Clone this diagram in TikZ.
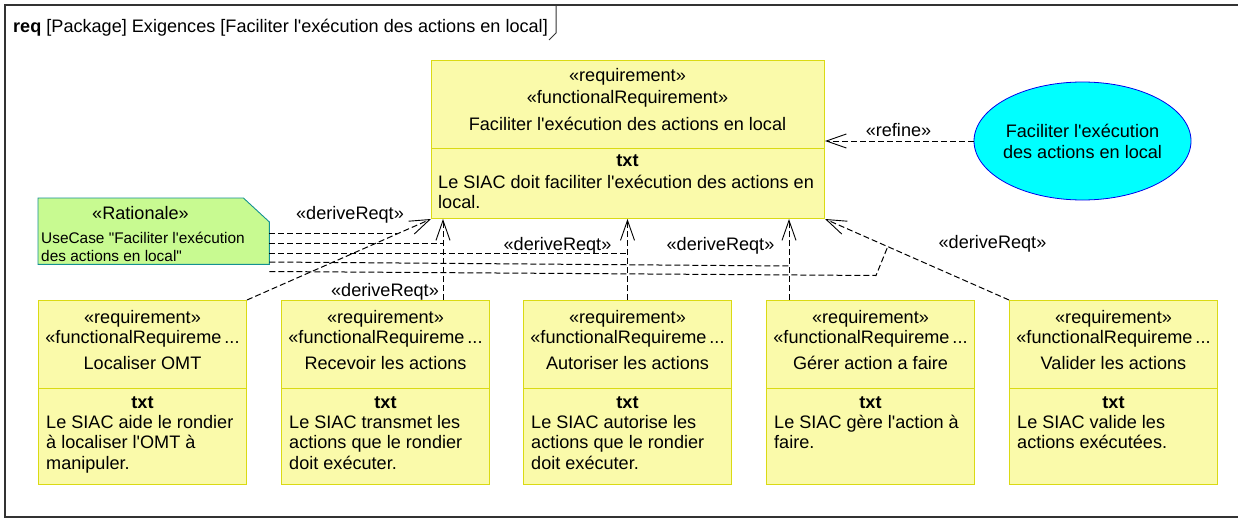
\documentclass[tikz,border=0pt]{standalone}
\usepackage{fontspec}
\setmainfont{Liberation Sans}
\usetikzlibrary{arrows.meta,calc,shapes.geometric}
\definecolor{reqfill}{RGB}{250,250,170}
\definecolor{reqdraw}{RGB}{218,218,20}
\definecolor{notefill}{RGB}{200,250,145}
\definecolor{notedraw}{RGB}{20,145,145}
\definecolor{ucfill}{RGB}{0,255,255}
\definecolor{ucdraw}{RGB}{0,0,235}
\newcommand\bigf{\fontsize{18.1}{21}\selectfont}
\newcommand\smallf{\fontsize{15.4}{18}\selectfont}
\newcommand\ap{\textquotesingle}
\newcommand\dq{\textquotedbl}
\begin{document}
\begin{tikzpicture}[x=1pt,y=-1pt,
  reqpart/.style={draw=reqdraw,fill=reqfill,line width=1pt,inner sep=0,anchor=north west},
  txtc/.style={font=\bigf,inner sep=0,anchor=base},
  txtl/.style={font=\bigf,inner sep=0,anchor=base west},
  frame/.style={draw=black!80,line width=1.3pt},
  dep/.style={draw,line width=1pt,dash pattern=on 6pt off 3pt,
    -{Straight Barb[length=20pt,width=14pt,line width=0.9pt]}},
  lnk/.style={draw,line width=1pt,dash pattern=on 6pt off 3pt}]
\useasboundingbox (0,0) rectangle (1238,519);

% frame
\draw[frame] (1260,5) -- (5,5) -- (5,517) -- (1260,517);
\draw[frame,line width=1pt] (556,5) -- (556,33) -- (549,40);
\node[txtl] (title) at (13,33) {\textbf{req} [Package] Exigences [Faciliter l\ap exécution des actions en local]};

% main requirement
\node[reqpart,minimum width=393pt,minimum height=88pt] (main-h) at (431,60) {};
\node[reqpart,minimum width=393pt,minimum height=70pt] (main-b) at (431,148) {};
\node[txtc] (m1) at (627.5,81.5) {«requirement»};
\node[txtc] (m2) at (627.5,103) {«functionalRequirement»};
\node[txtc] (m3) at (627.5,130) {Faciliter l\ap exécution des actions en local};
\node[txtc] (m4) at (627.5,166.5) {\textbf{txt}};
\node[txtl] (m5) at (438,188) {Le SIAC doit faciliter l\ap exécution des actions en};
\node[txtl] (m6) at (438,208.5) {local.};

% use case
\node[ellipse,draw=ucdraw,fill=ucfill,line width=0.8pt,minimum width=217pt,minimum height=118pt,inner sep=0] (uc) at (1082.5,141) {};
\node[txtc] (u1) at (1082.5,137.5) {Faciliter l\ap exécution};
\node[txtc] (u2) at (1082.5,158.5) {des actions en local};

% rationale note
\node[inner sep=0,minimum width=231pt,minimum height=66pt,anchor=north west] (note) at (38,198) {};
\filldraw[fill=notefill,draw=notedraw,line width=0.9pt]
  (note.north west) -- ([xshift=-26pt]note.north east) -- ([yshift=-24pt]note.north east)
  -- (note.south east) -- (note.south west) -- cycle;
\node[txtc] (n1) at (140.5,219) {«Rationale»};
\node[font=\smallf,inner sep=0,anchor=base west] (n2) at (41,243) {UseCase \dq Faciliter l\ap exécution};
\node[font=\smallf,inner sep=0,anchor=base west] (n3) at (41,261) {des actions en local\dq};

% sub requirements
\foreach \n/\x/\nm/\la/\lb/\lc in {
  loc/38/Localiser OMT/Le SIAC aide le rondier/à localiser l\ap OMT à/manipuler.,
  rec/281/Recevoir les actions/Le SIAC transmet les/actions que le rondier/doit exécuter.,
  aut/523/Autoriser les actions/Le SIAC autorise les/actions que le rondier/doit exécuter.,
  ger/766/Gérer action a faire/Le SIAC gère l\ap action à/faire./{},
  val/1009/Valider les actions/Le SIAC valide les/actions exécutées./{}}{
  \node[reqpart,minimum width=208pt,minimum height=88pt] (\n-h) at (\x,300) {};
  \node[reqpart,minimum width=208pt,minimum height=96pt] (\n-b) at (\x,388) {};
  \node[txtc] (\n-1) at ($(\n-h.north)+(0,23.5)$) {«requirement»};
  \node[txtc] (\n-2) at ($(\n-h.north)+(0,43.5)$) {«functionalRequireme\,...};
  \node[txtc] (\n-3) at ($(\n-h.north)+(0,69)$) {\nm};
  \node[txtc] (\n-4) at ($(\n-b.north)+(0,20.5)$) {\textbf{txt}};
  \node[txtl] (\n-5) at ($(\n-b.north west)+(8,40)$) {\la};
  \node[txtl] (\n-6) at ($(\n-b.north west)+(8,60.5)$) {\lb};
  \node[txtl] (\n-7) at ($(\n-b.north west)+(8,81)$) {\lc};
}

% derive relations
\coordinate (xr) at (443,0);
\coordinate (xg) at (789,0);
\draw[dep] (loc-h.north east) -- (main-b.south west);
\draw[dep] (rec-h.north -| xr) -- (main-b.south -| xr);
\draw[dep] (aut-h.north) -- (main-b.south -| aut-h.north);
\draw[dep] (ger-h.north -| xg) -- (main-b.south -| xg);
\draw[dep] (val-h.north west) -- (main-b.south east);
\draw[dep] (uc.west) -- (uc.west -| main-h.east);

\node[txtc] (l1) at (350,219) {«deriveReqt»};
\node[txtc] (l2) at (385,296.5) {«deriveReqt»};
\node[txtc] (l3) at (557.5,250) {«deriveReqt»};
\node[txtc] (l4) at (720.5,250) {«deriveReqt»};
\node[txtc] (l5) at (992.5,248.5) {«deriveReqt»};
\node[txtc] (l6) at (898.5,136.5) {«refine»};

% rationale anchors
\coordinate (ja) at ($(loc-h.north east)!0.817!(main-b.south west)$);
\coordinate (jb) at (443,243);
\coordinate (jc) at (627.5,253);
\coordinate (yd) at (0,262);
\coordinate (jd) at (789,266);
\coordinate (ye) at (0,271.5);
\coordinate (ke) at (876,275.5);
\coordinate (je) at ($(val-h.north west)!0.659!(main-b.south east)$);
\draw[lnk] (note.east |- ja) -- (ja);
\draw[lnk] (note.east |- jb) -- (jb);
\draw[lnk] (note.east |- jc) -- (jc);
\draw[lnk] (note.east |- yd) -- (jd);
\draw[lnk] (note.east |- ye) -- (ke) -- (je);
\end{tikzpicture}
\end{document}
